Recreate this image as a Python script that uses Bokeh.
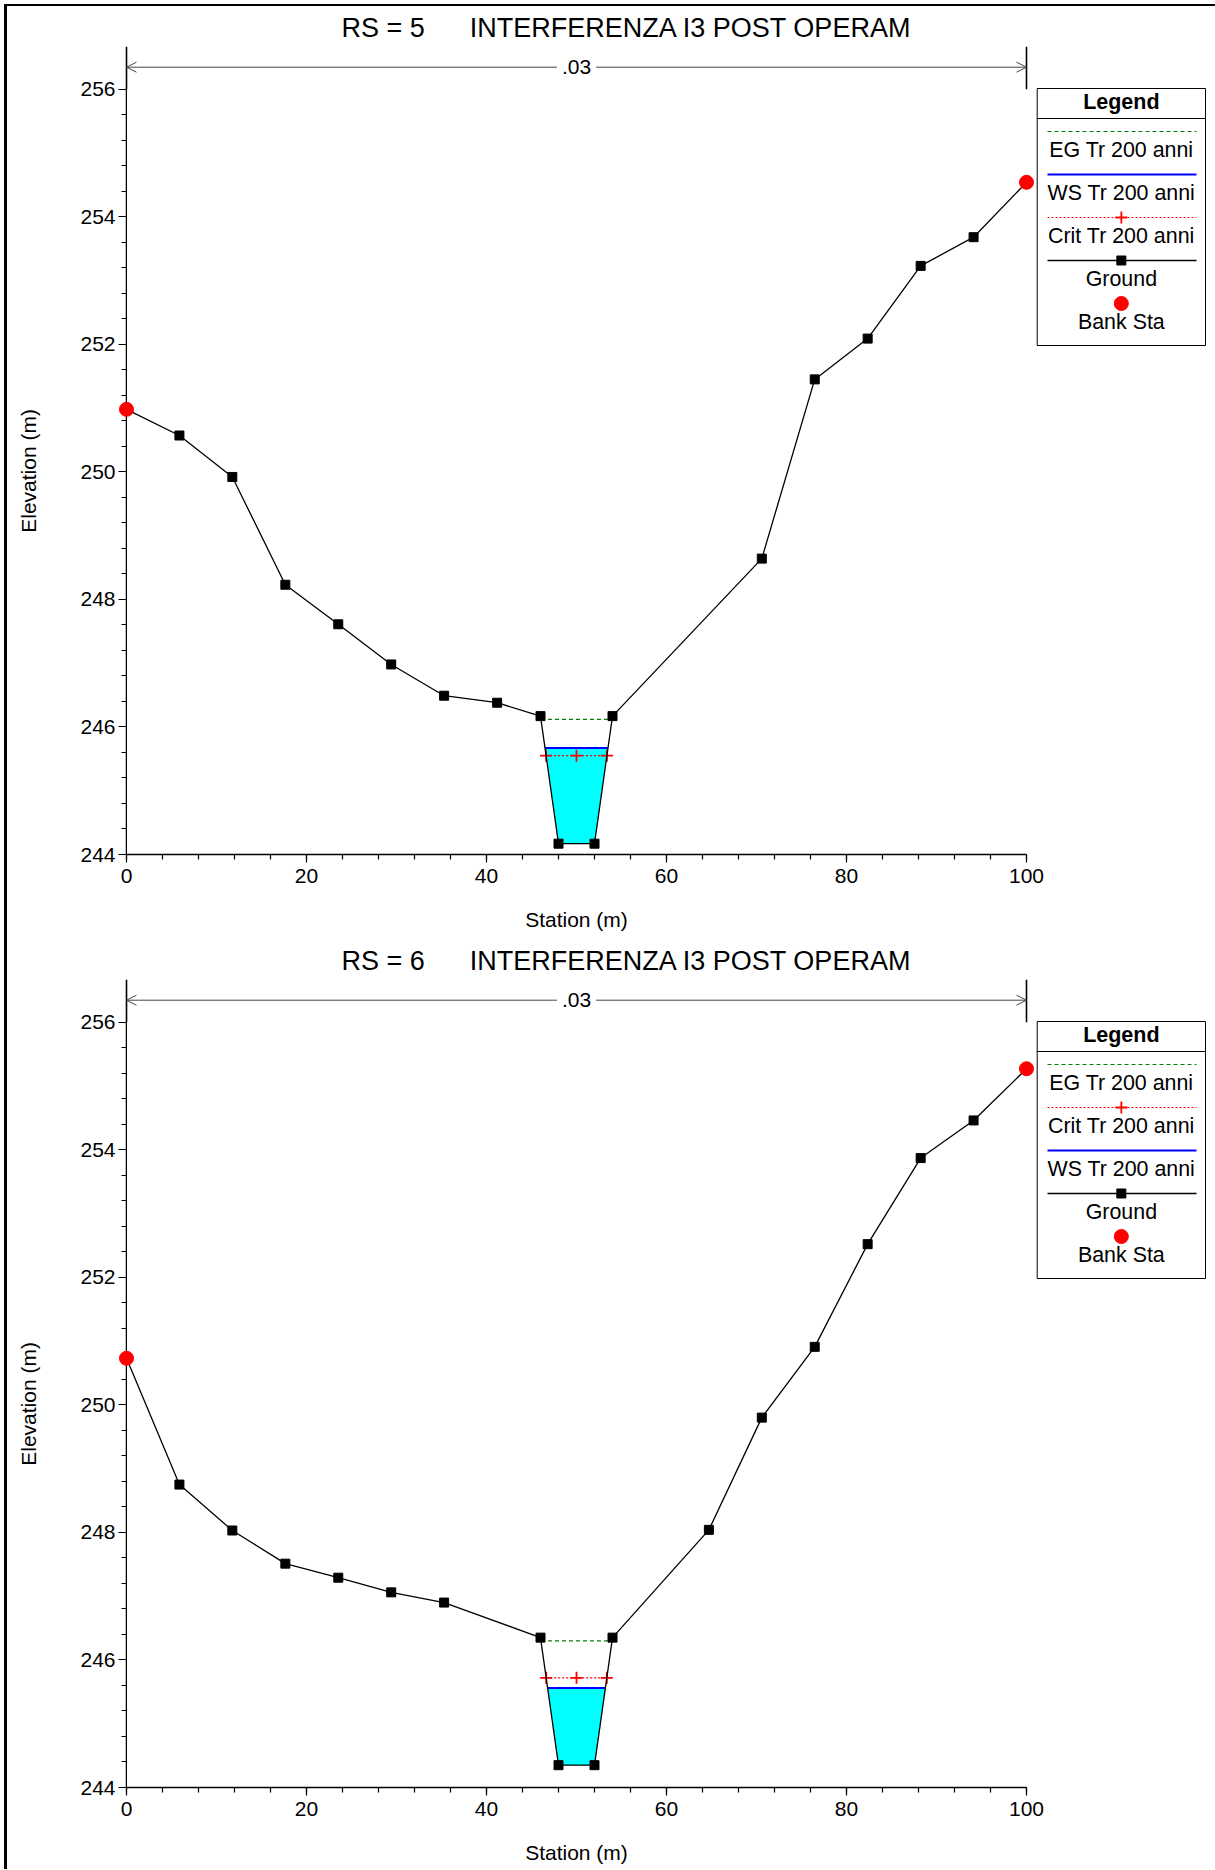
import numpy as np
from bokeh.plotting import figure
from bokeh.models import Range1d, SingleIntervalTicker, Arrow, OpenHead, Label, Column, Row
from bokeh.core.properties import value
from bokeh.embed import file_html
from bokeh.resources import INLINE

FONT = "Liberation Sans"

# ---------------- data ----------------
SUBTITLE = "INTERFERENZA I3 POST OPERAM"

RS_5 = "RS = 5"
STATION_5 = [0, 5.88, 11.76, 17.65, 23.53, 29.41, 35.29, 41.18, 46, 48, 52, 54,
             70.59, 76.47, 82.35, 88.24, 94.12, 100]
ELEV_5 = [250.98, 250.57, 249.92, 248.23, 247.61, 246.98, 246.49, 246.38, 246.17,
          244.17, 244.17, 246.17, 248.64, 251.45, 252.09, 253.23, 253.68, 254.54]
BANK_5 = [0, 100]
WS_5 = 245.67
CRIT_5 = 245.55
EG_5 = 246.12
LEGEND_5 = ["EG Tr 200 anni", "WS Tr 200 anni", "Crit Tr 200 anni", "Ground", "Bank Sta"]

RS_6 = "RS = 6"
STATION_6 = [0, 5.88, 11.76, 17.65, 23.53, 29.41, 35.29, 46, 48, 52, 54,
             64.71, 70.59, 76.47, 82.35, 88.24, 94.12, 100]
ELEV_6 = [250.73, 248.75, 248.03, 247.51, 247.29, 247.06, 246.90, 246.35,
          244.35, 244.35, 246.35, 248.04, 249.80, 250.91, 252.52, 253.87, 254.46, 255.27]
BANK_6 = [0, 100]
WS_6 = 245.56
CRIT_6 = 245.72
EG_6 = 246.30
LEGEND_6 = ["EG Tr 200 anni", "Crit Tr 200 anni", "WS Tr 200 anni", "Ground", "Bank Sta"]

N_VALUE = ".03"
N_BREAKS = [0, 100]

X_MIN, X_MAX, X_STEP = 0, 100, 20
Y_MIN, Y_TOP_TICK, Y_STEP = 244, 256, 2
Y_MAX = 256.67
X_LABEL = "Station (m)"
Y_LABEL = "Elevation (m)"

# ---------------- layout ----------------
PX_X = 9.0                      # pixels per station metre
PAD = 1.0                       # room so the bank markers at 0 and 100 stay whole
X_LO, X_HI = X_MIN - PAD, X_MAX + PAD
TOTAL_W = 1208
AXIS_W = 120                    # width of the figure that carries the elevation axis
AXIS_BORDER = 119               # its frame starts at station 0
PAD_PX = int(round(PAD * PX_X))
MAIN_FRAME_W = int(round((X_HI - X_LO) * PX_X))
MAIN_RIGHT = 20                 # room for the "100" tick label
MAIN_W = MAIN_FRAME_W + MAIN_RIGHT
MAIN_SHIFT = AXIS_W - AXIS_BORDER + PAD_PX        # overlap with the axis figure
LEG_W = TOTAL_W - (AXIS_W - MAIN_SHIFT + MAIN_W - MAIN_RIGHT)
FRAME_H = 808
TOP = 40
PX_Y = FRAME_H / (Y_MAX - Y_MIN)
NBSP = "\u00a0"


def fx(px):
    """pixel offset from the station-0 axis -> station"""
    return X_MIN + px / PX_X


def fy(py):
    """pixel offset from the frame top -> elevation"""
    return Y_MAX - py / PX_Y


STYLE = {
    "EG Tr 200 anni": dict(line_color="#008000", line_dash="4 3", line_width=1.2),
    "WS Tr 200 anni": dict(line_color="#0000FF", line_width=1.8),
    "Crit Tr 200 anni": dict(line_color="#FF0000", line_dash="2 2", line_width=1.2),
    "Ground": dict(line_color="black", line_width=1.3),
}
CRIT_MARK = dict(marker="cross", size=12, line_color="#FF0000", line_width=1.8)


def style_axis(ax, step):
    ax.ticker = SingleIntervalTicker(interval=step, num_minor_ticks=5)
    ax.major_tick_out = 8
    ax.major_tick_in = 0
    ax.minor_tick_out = 5
    ax.minor_tick_in = 0
    ax.axis_line_color = "black"
    ax.axis_line_width = 1.5
    ax.major_tick_line_color = "black"
    ax.minor_tick_line_color = "black"
    ax.major_tick_line_width = 1.2
    ax.minor_tick_line_width = 1.2
    ax.major_label_text_font = FONT
    ax.major_label_text_font_size = "21px"
    ax.major_label_text_color = "black"
    ax.axis_label_text_font = FONT
    ax.axis_label_text_font_size = "21px"
    ax.axis_label_text_font_style = "normal"
    ax.axis_label_text_color = "black"


def bare(p):
    p.outline_line_color = None
    p.xgrid.visible = False
    p.ygrid.visible = False


def crossings(st, el, level):
    st = np.asarray(st, float)
    el = np.asarray(el, float)
    k = int(np.argmin(el))
    i = k
    while el[i] < level:
        i -= 1
    xl = st[i] + (level - el[i]) * (st[i + 1] - st[i]) / (el[i + 1] - el[i])
    j = k
    while el[j] < level:
        j += 1
    xr = st[j - 1] + (level - el[j - 1]) * (st[j] - st[j - 1]) / (el[j] - el[j - 1])
    return xl, xr, i, j


def make_chart(rs, st, el, bank, ws, crit, eg, legend, height):
    mb = height - TOP - FRAME_H
    yr = Range1d(Y_MIN, Y_MAX)

    # ---- elevation axis ----
    ay = figure(width=AXIS_W, height=height, x_range=Range1d(0, 1), y_range=yr,
                output_backend="svg", toolbar_location=None, x_axis_location=None,
                min_border_left=AXIS_BORDER, min_border_right=0, min_border_top=TOP,
                min_border_bottom=mb)
    bare(ay)
    ay.background_fill_color = "white"
    ay.border_fill_color = "white"
    ya = ay.yaxis[0]
    style_axis(ya, Y_STEP)
    ya.bounds = (Y_MIN, Y_TOP_TICK)
    ya.major_label_standoff = 3
    # trailing no-break spaces centre the visible words on the 244-256 span
    ya.axis_label = Y_LABEL + NBSP * 7
    ya.axis_label_standoff = 37

    # ---- main plot ----
    p = figure(width=MAIN_W, height=height, x_range=Range1d(X_LO, X_HI), y_range=yr,
               output_backend="svg", toolbar_location=None, y_axis_location=None,
               min_border_left=0, min_border_right=MAIN_RIGHT,
               min_border_top=TOP, min_border_bottom=mb)
    bare(p)
    p.background_fill_alpha = 0
    p.border_fill_alpha = 0
    p.styles = {"margin-left": f"-{MAIN_SHIFT}px"}

    p.title.text = rs + NBSP * 6 + SUBTITLE
    p.title.align = "left"
    p.title.offset = 215 + PAD_PX
    p.title.standoff = 8
    p.title.text_font = FONT
    p.title.text_font_size = "27px"
    p.title.text_font_style = "normal"
    p.title.text_color = "black"

    xa = p.xaxis[0]
    style_axis(xa, X_STEP)
    xa.bounds = (X_MIN, X_MAX)
    xa.major_label_standoff = 6
    xa.axis_label = X_LABEL
    xa.axis_label_standoff = 22

    # Manning's n region
    yn = fy(20.7)
    p.segment(x0=N_BREAKS, y0=[Y_TOP_TICK] * len(N_BREAKS), x1=N_BREAKS,
              y1=[Y_MAX] * len(N_BREAKS), line_color="black", line_width=1.6)
    p.add_layout(Arrow(start=OpenHead(size=10, line_color="#444444", line_width=1),
                       end=OpenHead(size=10, line_color="#444444", line_width=1),
                       x_start=N_BREAKS[0], x_end=N_BREAKS[1], y_start=yn, y_end=yn,
                       line_color="#444444", line_width=1))
    p.add_layout(Label(x=sum(N_BREAKS) / 2, y=yn, text=N_VALUE, text_font=FONT,
                       text_font_size="21px", text_color="black", text_align="center",
                       text_baseline="middle", background_fill_color="white", padding=5))

    # water
    xl, xr, i, j = crossings(st, el, ws)
    wx = [xl] + list(st[i + 1:j]) + [xr]
    wy = [ws] + list(el[i + 1:j]) + [ws]
    p.patch(wx, wy, fill_color="#00FFFF", line_color=None)

    # EG
    exl, exr, _, _ = crossings(st, el, eg)
    p.line([exl, exr], [eg, eg], **STYLE["EG Tr 200 anni"])
    # WS
    p.line([xl, xr], [ws, ws], **STYLE["WS Tr 200 anni"])
    # Crit
    cxl, cxr, _, _ = crossings(st, el, crit)
    p.line([cxl, cxr], [crit, crit], **STYLE["Crit Tr 200 anni"])
    p.scatter([cxl, (cxl + cxr) / 2, cxr], [crit] * 3, **CRIT_MARK)
    # Ground
    p.line(st, el, **STYLE["Ground"])
    p.scatter(st, el, marker="square", size=9, fill_color="black", line_color="black")
    # Bank stations
    bank_el = [el[st.index(b)] for b in bank]
    p.scatter(bank, bank_el, marker="circle", size=14, fill_color="#FF0000",
              line_color="#FF0000")

    # ---- legend panel (separate figure, same vertical frame) ----
    lg = figure(width=LEG_W, height=height, x_range=Range1d(X_HI, X_HI + LEG_W / PX_X),
                y_range=yr, output_backend="svg",
                toolbar_location=None, x_axis_location=None, y_axis_location=None,
                min_border_left=0, min_border_right=0, min_border_top=TOP,
                min_border_bottom=mb)
    bare(lg)
    lg.background_fill_alpha = 0
    lg.border_fill_alpha = 0
    lg.styles = {"margin-left": f"-{MAIN_RIGHT}px"}

    T = 42
    L, R = 910.7, 1079
    lg.quad(left=[fx(L)], right=[fx(R)], top=[fy(T)], bottom=[fy(T + 257)],
            fill_color="white", line_color="black", line_width=1)
    lg.segment(x0=[fx(L)], y0=[fy(T + 30)], x1=[fx(R)], y1=[fy(T + 30)],
               line_color="black", line_width=1)
    cx = fx((L + R) / 2)
    lg.text(x=[cx], y=[fy(T + 13)], text=["Legend"], text_font=value(FONT),
            text_font_size=value("21.5px"), text_font_style="bold", text_color="black",
            text_align="center", text_baseline="middle")
    lx0, lx1 = fx(921), fx(1070)
    for k, name in enumerate(legend):
        ys = fy(T + 43 + 43 * k)
        yt = fy(T + 61 + 43 * k)
        if name in STYLE:
            lg.line([lx0, lx1], [ys, ys], **STYLE[name])
        if name == "Crit Tr 200 anni":
            lg.scatter([cx], [ys], **CRIT_MARK)
        if name == "Ground":
            lg.scatter([cx], [ys], marker="square", size=9, fill_color="black",
                       line_color="black")
        if name == "Bank Sta":
            lg.scatter([cx], [ys], marker="circle", size=14, fill_color="#FF0000",
                       line_color="#FF0000")
        lg.text(x=[cx], y=[yt], text=[name], text_font=value(FONT),
                text_font_size=value("21.4px"), text_color="black",
                text_align="center", text_baseline="middle")
    return Row(children=[ay, p, lg], spacing=0)


r1 = make_chart(RS_5, STATION_5, ELEV_5, BANK_5, WS_5, CRIT_5, EG_5, LEGEND_5, 933)
r2 = make_chart(RS_6, STATION_6, ELEV_6, BANK_6, WS_6, CRIT_6, EG_6, LEGEND_6, 930)

page = Column(children=[r1, r2], spacing=0,
              styles={"margin-left": "4px", "margin-top": "4px",
                      "border-left": "3px solid black", "border-top": "2px solid black"})

open("out.html", "w").write(file_html(page, INLINE))
